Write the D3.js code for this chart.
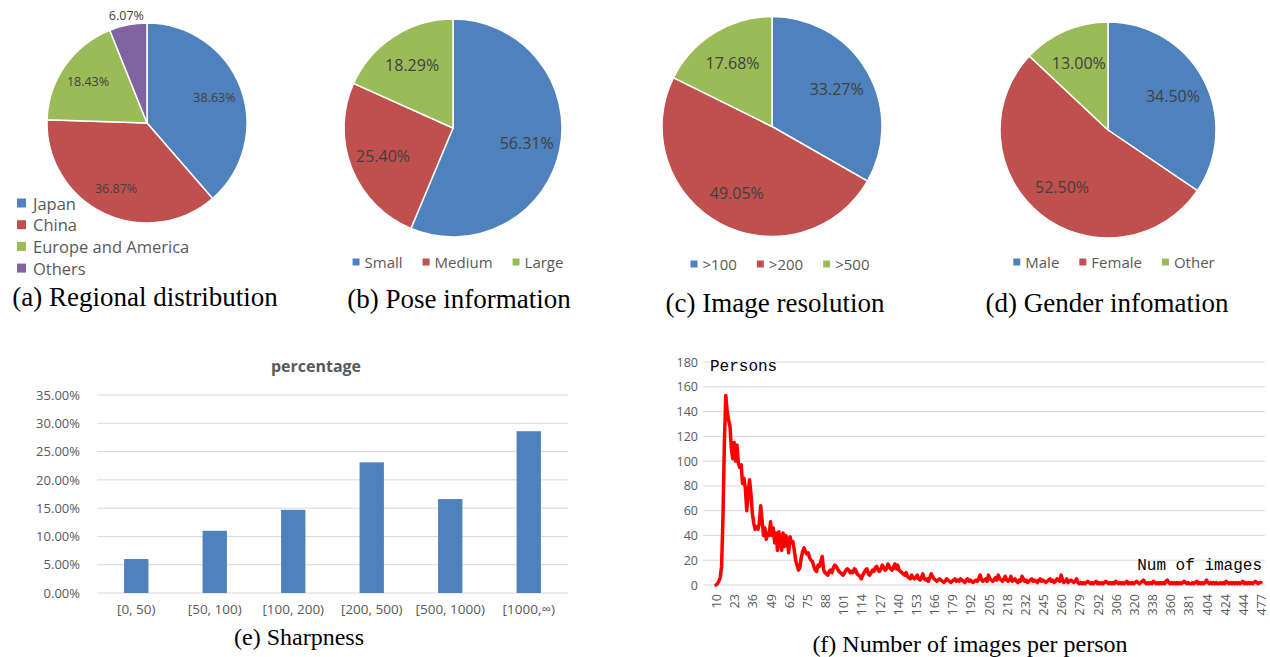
<!DOCTYPE html>
<html>
<head>
<meta charset="utf-8">
<script src="https://cdn.jsdelivr.net/npm/d3@7/dist/d3.min.js"></script>
<style>
  html, body { margin: 0; padding: 0; background: #fff; }
  svg { display: block; }
</style>
</head>
<body>
<svg id="chart" width="1270" height="657"></svg>
<script>
// ---------------- DATA ----------------
const regionCats = ["Japan", "China", "Europe and America", "Others"];
const regionVals = [38.63, 36.87, 18.43, 6.07];

const poseCats = ["Small", "Medium", "Large"];
const poseVals = [56.31, 25.40, 18.29];

const resCats = [">100", ">200", ">500"];
const resVals = [33.27, 49.05, 17.68];

const genderCats = ["Male", "Female", "Other"];
const genderVals = [34.50, 52.50, 13.00];

const sharpCats = ["[0, 50)", "[50, 100)", "[100, 200)", "[200, 500)", "[500, 1000)", "[1000,\u221E)"];
const sharpVals = [0.060, 0.110, 0.147, 0.231, 0.166, 0.286];
const sharpTicks = [0, 0.05, 0.10, 0.15, 0.20, 0.25, 0.30, 0.35];

const imgTickLabels = ["10","23","36","49","62","75","88","101","114","127","140","153","166","179","192","205","218","232","245","260","279","292","306","320","338","360","381","404","424","444","477"];
const personTicks = [0, 20, 40, 60, 80, 100, 120, 140, 160, 180];
const personCounts = [
  0,1,3,6,15,55,115,153,140,133,
  128,110,102,115,100,113,98,95,97,82,
  86,78,60,73,85,74,58,50,45,47,
  45,50,64,52,40,46,37,42,40,51,
  40,46,34,42,28,43,36,28,42,31,
  40,36,26,39,34,35,28,20,16,12,
  14,22,27,30,27,25,26,22,20,19,
  15,12,11,16,15,19,23,12,10,9,
  8,11,12,10,14,16,15,13,11,10,
  9,8,10,12,13,12,10,11,10,13,
  12,9,8,7,5,8,10,12,13,9,
  8,10,12,11,14,15,12,11,13,16,
  14,12,13,17,15,13,12,14,17,13,
  16,12,11,10,9,8,10,7,6,5,
  8,6,5,6,8,5,4,6,9,5,
  4,5,3,6,9,7,5,4,3,4,
  5,4,3,2,3,5,4,3,2,3,
  4,5,3,4,3,5,4,3,2,4,
  5,3,4,3,2,3,4,3,5,8,
  4,3,4,5,3,8,5,4,3,4,
  6,4,8,5,4,3,5,7,4,3,
  4,7,3,4,5,3,2,4,3,7,
  5,3,4,2,3,4,5,3,4,3,
  2,4,5,3,4,3,2,3,4,5,
  3,4,2,3,5,4,3,8,4,2,
  3,5,2,3,4,3,2,3,5,2,
  1,2,1,2,1,2,3,2,1,2,
  1,2,3,1,2,1,2,1,2,3,
  2,1,2,1,2,1,3,2,1,2,
  1,2,1,2,3,1,2,1,2,1,
  2,3,2,1,2,3,4,2,1,2,
  1,2,1,3,2,1,2,1,2,1,
  2,1,3,4,2,1,2,1,2,1,
  2,1,2,1,2,3,2,1,2,1,
  1,2,1,2,3,1,2,1,2,1,
  2,4,2,1,2,1,2,1,2,1,
  1,2,1,2,1,3,2,1,2,1,
  2,1,2,1,2,1,2,3,1,2,
  1,2,1,2,1,2,3,2,1,2,2
];

// ---------------- STYLE ----------------
const pieColors = ["#4F81BD", "#C0504D", "#9BBB59", "#8064A2"];
const uiFont = "'Open Sans', 'Liberation Sans', sans-serif";
const capFont = "'Liberation Serif', 'Times New Roman', serif";
const monoFont = "'Liberation Mono', monospace";
const gridColor = "#D9D9D9";
const axisText = "#595959";

const svg = d3.select("#chart");

// ---------------- PIES ----------------
function drawPie(cfg) {
  const g = svg.append("g").attr("transform", `translate(${cfg.cx},${cfg.cy})`);
  const pie = d3.pie().sort(null).value(d => d)(cfg.vals);
  const arc = d3.arc().innerRadius(0).outerRadius(cfg.r);
  g.selectAll("path.slice").data(pie).join("path")
    .attr("class", "slice")
    .attr("d", arc)
    .attr("fill", (d, i) => pieColors[i])
    .attr("stroke", "#fff")
    .attr("stroke-width", 1.5);
  g.selectAll("text.lbl").data(pie).join("text")
    .attr("class", "lbl")
    .attr("transform", (d, i) => {
      const k = (cfg.outside && cfg.outside[i]) ? cfg.outside[i] : cfg.lf;
      const a = (d.startAngle + d.endAngle) / 2;
      return `translate(${Math.sin(a) * cfg.r * k},${-Math.cos(a) * cfg.r * k})`;
    })
    .attr("text-anchor", "middle")
    .attr("dominant-baseline", "central")
    .attr("font-family", uiFont)
    .attr("font-size", cfg.labelSize)
    .attr("fill", "#404040")
    .text(d => d.data.toFixed(2) + "%");
}

function horizLegend(cats, cx, cy, sq, fs) {
  const g = svg.append("g");
  let x = 0;
  cats.forEach((c, i) => {
    const it = g.append("g").attr("transform", `translate(${x},0)`);
    it.append("rect").attr("x", 0).attr("y", cy - sq / 2).attr("width", sq).attr("height", sq).attr("fill", pieColors[i]);
    const t = it.append("text").attr("x", sq + 5).attr("y", cy)
      .attr("dominant-baseline", "central")
      .attr("font-family", uiFont).attr("font-size", fs).attr("fill", axisText).text(c);
    const w = t.node().getComputedTextLength();
    x += sq + 5 + w + 20;
  });
  const total = x - 20;
  g.attr("transform", `translate(${cx - total / 2},0)`);
}

function caption(text, cx, y, fs) {
  svg.append("text").attr("x", cx).attr("y", y)
    .attr("text-anchor", "middle")
    .attr("font-family", capFont).attr("font-size", fs).attr("fill", "#000")
    .text(text);
}

// (a)
drawPie({ vals: regionVals, cx: 147, cy: 123, r: 100, lf: 0.72, outside: [0, 0, 0, 1.09], labelSize: 12.5 });
regionCats.forEach((c, i) => {
  const y = 203 + i * 21.7;
  svg.append("rect").attr("x", 17).attr("y", y - 4.5).attr("width", 9).attr("height", 9).attr("fill", pieColors[i]);
  svg.append("text").attr("x", 33).attr("y", y).attr("dominant-baseline", "central")
    .attr("font-family", uiFont).attr("font-size", 16.5).attr("fill", axisText).text(c);
});
caption("(a) Regional distribution", 145, 306, 27);

// (b)
drawPie({ vals: poseVals, cx: 453, cy: 128, r: 109, lf: 0.69, labelSize: 16 });
horizLegend(poseCats, 458, 262, 7, 15);
caption("(b) Pose information", 459, 308, 27);

// (c)
drawPie({ vals: resVals, cx: 772, cy: 126.5, r: 110, lf: 0.68, labelSize: 16 });
horizLegend(resCats, 780, 264, 7, 15);
caption("(c) Image resolution", 775, 312, 27);

// (d)
drawPie({ vals: genderVals, cx: 1108, cy: 130, r: 108, lf: 0.68, labelSize: 16 });
horizLegend(genderCats, 1114, 262, 7, 15);
caption("(d) Gender infomation", 1107, 312, 27);

// ---------------- BAR (e) ----------------
{
  const x = d3.scaleBand().domain(sharpCats).range([97, 568]).paddingInner(0.69).paddingOuter(0.345);
  const y = d3.scaleLinear().domain([0, 0.35]).range([593, 395]);
  const g = svg.append("g");
  g.selectAll("line.grid").data(sharpTicks).join("line")
    .attr("x1", 97).attr("x2", 568)
    .attr("y1", d => y(d)).attr("y2", d => y(d))
    .attr("stroke", gridColor).attr("stroke-width", 1);
  const yAxis = d3.axisLeft(y).tickValues(sharpTicks).tickFormat(d => (d * 100).toFixed(2) + "%").tickSize(0).tickPadding(0);
  const ya = g.append("g").attr("transform", "translate(80,0)").call(yAxis);
  ya.select(".domain").remove();
  ya.selectAll("text").attr("font-family", uiFont).attr("font-size", 13).attr("fill", axisText);
  g.selectAll("rect.bar").data(sharpVals).join("rect")
    .attr("class", "bar")
    .attr("x", (d, i) => x(sharpCats[i]))
    .attr("width", x.bandwidth())
    .attr("y", d => y(d))
    .attr("height", d => y(0) - y(d))
    .attr("fill", "#4F81BD");
  const xAxis = d3.axisBottom(x).tickSize(0).tickPadding(0);
  const xa = g.append("g").attr("transform", "translate(0,604)").call(xAxis);
  xa.select(".domain").remove();
  xa.selectAll("text").attr("font-family", uiFont).attr("font-size", 13.5).attr("fill", axisText);
  svg.append("text").attr("x", 316).attr("y", 366).attr("text-anchor", "middle")
    .attr("dominant-baseline", "central")
    .attr("font-family", uiFont).attr("font-weight", "bold").attr("font-size", 16).attr("fill", axisText)
    .text("percentage");
  caption("(e) Sharpness", 299, 645, 24);
}

// ---------------- LINE (f) ----------------
{
  const x = d3.scaleLinear().domain([0, personCounts.length - 1]).range([716, 1261]);
  const y = d3.scaleLinear().domain([0, 180]).range([585, 362]);
  const g = svg.append("g");
  g.selectAll("line.grid").data(personTicks).join("line")
    .attr("x1", 703).attr("x2", 1265)
    .attr("y1", d => y(d)).attr("y2", d => y(d))
    .attr("stroke", gridColor).attr("stroke-width", 1);
  const yAxis = d3.axisLeft(y).tickValues(personTicks).tickSize(0).tickPadding(0);
  const ya = g.append("g").attr("transform", "translate(698,0)").call(yAxis);
  ya.select(".domain").remove();
  ya.selectAll("text").attr("font-family", uiFont).attr("font-size", 12.5).attr("fill", axisText);

  const tickIdx = imgTickLabels.map((d, i) => i * 13);
  const xAxis = d3.axisBottom(x).tickValues(tickIdx).tickFormat((d, i) => imgTickLabels[i]).tickSize(0).tickPadding(0);
  const xa = g.append("g").attr("transform", "translate(0,594)").call(xAxis);
  xa.select(".domain").remove();
  xa.selectAll("text")
    .attr("font-family", uiFont).attr("font-size", 12.5).attr("fill", axisText)
    .attr("text-anchor", "end").attr("dy", null).attr("y", 0)
    .attr("dominant-baseline", "central")
    .attr("transform", "rotate(-90)");

  const line = d3.line().x((d, i) => x(i)).y(d => y(d));
  g.append("path").datum(personCounts)
    .attr("d", line)
    .attr("fill", "none")
    .attr("stroke", "#FF0000")
    .attr("stroke-width", 3.5)
    .attr("stroke-linejoin", "round")
    .attr("stroke-linecap", "round");

  svg.append("text").attr("x", 710).attr("y", 367).attr("dominant-baseline", "central")
    .attr("font-family", monoFont).attr("font-size", 16).attr("fill", "#000").text("Persons");
  svg.append("text").attr("x", 1262).attr("y", 566).attr("text-anchor", "end").attr("dominant-baseline", "central")
    .attr("font-family", monoFont).attr("font-size", 16).attr("fill", "#000").text("Num of images");
  caption("(f) Number of images per person", 970, 652, 24);
}
</script>
</body>
</html>
